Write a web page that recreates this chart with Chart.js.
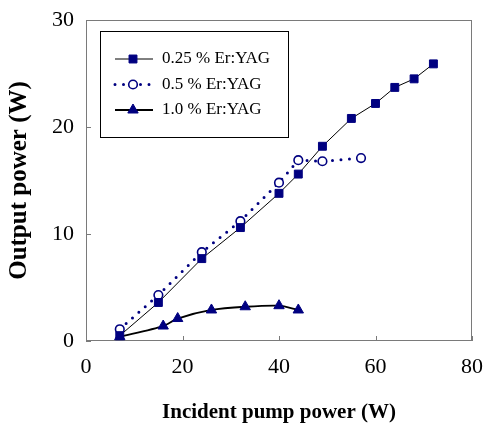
<!DOCTYPE html>
<html>
<head>
<meta charset="utf-8">
<script src="https://cdn.jsdelivr.net/npm/chart.js@4"></script>
<style>
  body { margin: 0; background: #fff; }
  canvas { display: block; }
</style>
</head>
<body>
<canvas id="myChart" width="484" height="425"></canvas>
<script>
'use strict';

// 0.25 % Er:YAG
var pumpA = [7, 15, 24, 32, 40, 44, 49, 55, 60, 64, 68, 72];
var outA = [0.5, 3.6, 7.7, 10.6, 13.8, 15.6, 18.2, 20.8, 22.2, 23.7, 24.5, 25.9];
// 0.5 % Er:YAG
var pumpB = [7, 15, 24, 32, 40, 44, 49, 57];
var outB = [1.1, 4.3, 8.3, 11.2, 14.8, 16.9, 16.8, 17.1];
// 1.0 % Er:YAG
var pumpC = [7, 16, 19, 26, 33, 40, 44];
var outC = [0.4, 1.4, 2.1, 2.9, 3.2, 3.3, 2.9];

var seriesLabels = ['0.25 % Er:YAG', '0.5 % Er:YAG', '1.0 % Er:YAG'];
var xTicks = [0, 20, 40, 60, 80];
var yTicks = [0, 10, 20, 30];

var NAVY = '#000080';
var FRAME = '#7a7a7a';
var SERIF = '"Liberation Serif", "Times New Roman", Times, serif';

function toPoints(xs, ys) {
    return xs.map(function (x, i) { return {x: x, y: ys[i]}; });
}

// plot frame + inward tick marks
var frameTicks = {
    id: 'frameTicks',
    beforeDatasetsDraw: function (chart) {
        var ctx = chart.ctx;
        var a = chart.chartArea;
        var xs = chart.scales.x, ys = chart.scales.y;
        ctx.save();
        ctx.strokeStyle = FRAME;
        ctx.lineWidth = 1;
        ctx.strokeRect(a.left + 0.5, a.top + 0.5, a.right - a.left - 1, a.bottom - a.top - 1);
        ctx.beginPath();
        xTicks.forEach(function (v) {
            var px = Math.round(xs.getPixelForValue(v)) + 0.5;
            ctx.moveTo(px, a.bottom);
            ctx.lineTo(px, a.bottom - 5);
        });
        yTicks.forEach(function (v) {
            var py = Math.round(ys.getPixelForValue(v)) + 0.5;
            ctx.moveTo(a.left, py);
            ctx.lineTo(a.left + 5, py);
        });
        ctx.stroke();
        ctx.restore();
    }
};

// boxed legend inside the plot, line sample with marker
var boxLegend = {
    id: 'boxLegend',
    afterDraw: function (chart) {
        var ctx = chart.ctx;
        var a = chart.chartArea;
        var bx = a.left + 14, by = a.top + 11, bw = 188, bh = 106;
        ctx.save();
        ctx.fillStyle = '#fff';
        ctx.fillRect(bx, by, bw, bh);
        ctx.strokeStyle = '#000';
        ctx.lineWidth = 1;
        ctx.strokeRect(bx + 0.5, by + 0.5, bw, bh);

        chart.data.datasets.forEach(function (ds, i) {
            var y = by + 28 + i * 25.5;
            var x0 = bx + 15, x1 = bx + 53, xm = bx + 33;
            ctx.save();
            ctx.strokeStyle = ds.borderColor;
            ctx.lineWidth = ds.borderWidth;
            ctx.lineCap = ds.borderCapStyle || 'butt';
            ctx.setLineDash(ds.borderDash || []);
            ctx.beginPath();
            ctx.moveTo(x0, y);
            ctx.lineTo(x1, y);
            ctx.stroke();
            ctx.restore();

            ctx.save();
            ctx.fillStyle = ds.pointBackgroundColor;
            ctx.strokeStyle = ds.pointBorderColor;
            ctx.lineWidth = ds.pointBorderWidth;
            Chart.helpers.drawPoint(ctx, {
                pointStyle: ds.pointStyle,
                radius: ds.pointRadius,
                rotation: 0,
                borderWidth: ds.pointBorderWidth
            }, xm, y);
            ctx.restore();

            ctx.fillStyle = '#000';
            ctx.font = '17px ' + SERIF;
            ctx.textBaseline = 'middle';
            ctx.textAlign = 'left';
            ctx.fillText(seriesLabels[i], bx + 62, y);
        });
        ctx.restore();
    }
};

var ctx = document.getElementById('myChart');
var myChart = new Chart(ctx, {
    type: 'scatter',
    data: {
        datasets: [
            {
                label: seriesLabels[0],
                data: toPoints(pumpA, outA),
                showLine: true,
                borderColor: '#000',
                borderWidth: 1,
                pointStyle: 'rect',
                pointRadius: 5.6,
                pointBackgroundColor: NAVY,
                pointBorderColor: NAVY,
                pointBorderWidth: 1,
                clip: false
            },
            {
                label: seriesLabels[1],
                data: toPoints(pumpB, outB),
                showLine: true,
                borderColor: NAVY,
                borderWidth: 3,
                borderDash: [0, 8.5],
                borderCapStyle: 'round',
                pointStyle: 'circle',
                pointRadius: 4.3,
                pointBackgroundColor: '#fff',
                pointBorderColor: NAVY,
                pointBorderWidth: 1.6,
                clip: false
            },
            {
                label: seriesLabels[2],
                data: toPoints(pumpC, outC),
                showLine: true,
                tension: 0.25,
                borderColor: '#000',
                borderWidth: 1.8,
                pointStyle: 'triangle',
                pointRadius: 6,
                pointBackgroundColor: NAVY,
                pointBorderColor: NAVY,
                pointBorderWidth: 1,
                clip: false
            }
        ]
    },
    options: {
        responsive: false,
        animation: false,
        layout: { padding: { top: 20, right: 12, left: 0, bottom: 0 } },
        plugins: {
            legend: { display: false },
            tooltip: { enabled: false }
        },
        scales: {
            x: {
                type: 'linear',
                min: 0,
                max: 80,
                afterBuildTicks: function (scale) {
                    scale.ticks = xTicks.map(function (v) { return {value: v}; });
                },
                grid: { display: false, drawTicks: false },
                border: { display: false },
                ticks: {
                    padding: 13,
                    color: '#000',
                    font: { family: SERIF, size: 22 }
                },
                title: {
                    display: true,
                    text: 'Incident pump power (W)',
                    color: '#000',
                    padding: { top: 0, bottom: 0 },
                    font: { family: SERIF, size: 21, weight: 'bold' }
                },
                afterFit: function (scale) {
                    scale.height = 84;
                    scale.paddingLeft = 0;
                    scale.paddingRight = 0;
                }
            },
            y: {
                type: 'linear',
                min: 0,
                max: 30,
                afterBuildTicks: function (scale) {
                    scale.ticks = yTicks.map(function (v) { return {value: v}; });
                },
                grid: { display: false, drawTicks: false },
                border: { display: false },
                ticks: {
                    padding: 12,
                    color: '#000',
                    font: { family: SERIF, size: 22 }
                },
                title: {
                    display: true,
                    text: 'Output power (W)',
                    color: '#000',
                    padding: { top: 5, bottom: 0 },
                    font: { family: SERIF, size: 25, weight: 'bold' }
                },
                afterFit: function (scale) {
                    scale.width = 86;
                    scale.paddingTop = 0;
                    scale.paddingBottom = 0;
                }
            }
        }
    },
    plugins: [frameTicks, boxLegend]
});
</script>
</body>
</html>
